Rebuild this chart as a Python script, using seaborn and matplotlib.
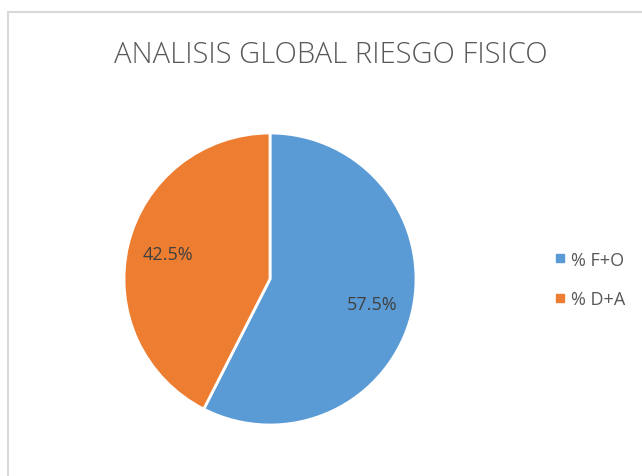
import seaborn as sns
import matplotlib.pyplot as plt
from matplotlib.patches import Rectangle
from matplotlib.lines import Line2D

# Data
labels = ['% F+O', '% D+A']
values = [57.5, 42.5]
colors = ['#5B9BD5', '#ED7D31']
title = 'ANALISIS GLOBAL RIESGO FISICO'

sns.set_theme(style='white')
plt.rcParams['font.family'] = ['Open Sans', 'DejaVu Sans']

fig = plt.figure(figsize=(6.42, 4.77), dpi=100)
# pie centred at ~(270, 280) px with radius ~146 px
ax = fig.add_axes([124 / 642, 1 - 426 / 477, 292 / 642, 292 / 477])

wedges, texts, autotexts = ax.pie(
    values, colors=colors, startangle=90, counterclock=False,
    autopct='%1.1f%%', pctdistance=0.72,
    wedgeprops={'edgecolor': 'white', 'linewidth': 2},
    textprops={'color': '#404040', 'fontsize': 13},
)
ax.set_xlim(-1, 1)
ax.set_ylim(-1, 1)
ax.set_aspect('equal')
ax.axis('off')

fig.text(0.515, 0.885, title, ha='center', va='center', fontsize=21,
         color='#595959', fontweight='light')

handles = [Line2D([], [], marker='s', linestyle='', markersize=6,
                  markerfacecolor=c, markeredgecolor=c) for c in colors]
fig.legend(handles, labels, loc='center left', bbox_to_anchor=(546 / 642, 0.412),
           frameon=False, fontsize=13, labelcolor='#595959', borderpad=0,
           handletextpad=0.4, labelspacing=1.2, handlelength=0.5)

fig.patches.append(Rectangle((8 / 642, -0.1), 1.2, (477 - 13) / 477 + 0.1,
                             transform=fig.transFigure, fill=False,
                             edgecolor='#d9d9d9', linewidth=1.5))

fig.savefig('out.png', dpi=100)
